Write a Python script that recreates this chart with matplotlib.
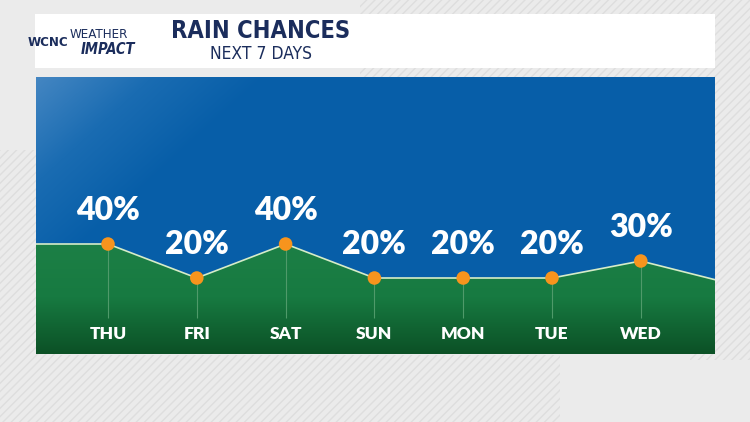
import numpy as np
import matplotlib.pyplot as plt
from matplotlib.patches import Rectangle, Polygon
from matplotlib.colors import LinearSegmentedColormap

# data
days = ["THU", "FRI", "SAT", "SUN", "MON", "TUE", "WED"]
chances = [40, 20, 40, 20, 20, 20, 30]
edge_left = 40
edge_right = 19

W, H = 750, 422
fig = plt.figure(figsize=(7.5, 4.22), dpi=100)
fig.patch.set_facecolor("#ebebeb")

# striped background bits
bg = fig.add_axes([0, 0, 1, 1])
bg.set_xlim(0, W)
bg.set_ylim(H, 0)
bg.axis("off")
for (x0, y0, w, h) in [(360, 0, 390, 120), (0, 150, 60, 220), (690, 100, 60, 260), (0, 355, 560, 67)]:
    bg.add_patch(Rectangle((x0, y0), w, h, facecolor="#ebebeb", edgecolor="#dedede",
                           hatch="////", linewidth=0))
# header box
fam = ["DejaVu Sans"]
navy = "#1b2d5c"
bg.add_patch(Rectangle((35, 14), 680, 54, facecolor="white", edgecolor="none"))
bg.text(261, 31, "RAIN CHANCES", ha="center", va="center", fontsize=17, fontweight="bold",
        color=navy, family=fam, fontstretch="condensed")
bg.text(261, 54, "NEXT 7 DAYS", ha="center", va="center", fontsize=12.5,
        color=navy, family=fam, fontstretch="condensed")
bg.text(48, 43, "WCNC", ha="center", va="center", fontsize=9.5, fontweight="bold",
        color=navy, family=fam, fontstretch="condensed")
bg.text(99, 35, "WEATHER", ha="center", va="center", fontsize=9.5,
        color=navy, family=fam, fontstretch="condensed")
bg.text(108, 50, "IMPACT", ha="center", va="center", fontsize=10.5, fontweight="bold",
        style="italic", color=navy, family=fam, fontstretch="condensed")

# chart panel
px0, px1, py0, py1 = 36, 715, 77, 354
ax = fig.add_axes([px0 / W, (H - py1) / H, (px1 - px0) / W, (py1 - py0) / H])
step = 88.8
xl = (px0 - 108) / step
xr = (px1 - 108) / step
ppc = 1.7  # px per percent
y0px = 312
ybot = (y0px - py1) / ppc
ytop = (y0px - py0) / ppc
ax.set_xlim(xl, xr)
ax.set_ylim(ybot, ytop)
ax.axis("off")

# blue gradient background, diagonal light in top-left corner
blue = LinearSegmentedColormap.from_list("b", ["#075ea8", "#1a6cb2", "#4486c2"])
pw, ph = px1 - px0, py1 - py0
gx, gy = np.meshgrid(np.arange(pw), np.arange(ph))
grad = np.clip(1 - (gx + gy * 1.1) / 230.0, 0, 1)
ax.imshow(grad, cmap=blue, extent=[xl, xr, ybot, ytop], origin="upper", aspect="auto", zorder=0)

xs = np.arange(len(days))
line_x = np.concatenate([[xl], xs, [xr]])
line_y = np.concatenate([[edge_left], chances, [edge_right]])

# green area with gradient
green = LinearSegmentedColormap.from_list("g", ["#0c5126", "#177a41", "#1d8046"])
gimg = np.linspace(0, 1, 100).reshape(-1, 1)
im = ax.imshow(gimg, cmap=green, extent=[xl, xr, ybot, max(chances) + 2], origin="lower",
               aspect="auto", zorder=1)
poly = Polygon(np.column_stack([np.concatenate([line_x, [xr, xl]]),
                                np.concatenate([line_y, [ybot, ybot]])]),
               closed=True, facecolor="none", edgecolor="none")
ax.add_patch(poly)
im.set_clip_path(poly)

ax.plot(line_x, line_y, color="#d6ecc8", linewidth=1.2, zorder=3)
ax.vlines(xs, -3.5, chances, color="#4f9a6a", linewidth=0.8, zorder=2)
ax.scatter(xs, chances, s=95, color="#f7941d", edgecolor="none", zorder=4)

for i, (d, c) in enumerate(zip(days, chances)):
    ax.text(i, c + 19.5, f"{c}%", ha="center", va="center", fontsize=23, fontweight="heavy",
            color="white", family=["Lato", "DejaVu Sans"])
    ax.text(i, -13, d, ha="center", va="center", fontsize=12.5, fontweight="heavy",
            color="white", family=["Lato", "DejaVu Sans"])

fig.savefig("out.png", dpi=100, facecolor=fig.get_facecolor())
